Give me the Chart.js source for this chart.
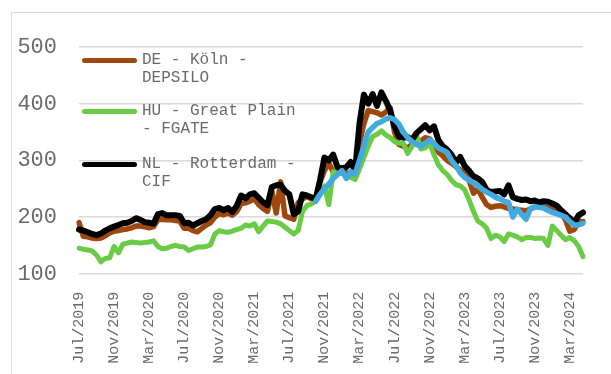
<!DOCTYPE html>
<html>
<head>
<meta charset="utf-8">
<script src="https://cdn.jsdelivr.net/npm/chart.js@4"></script>
<style>
  html, body { margin: 0; padding: 0; background: #fff; overflow: hidden; }
  #wrap { position: relative; width: 611px; height: 374px; }
  #frame { position: absolute; left: 11px; top: 12px; width: 640px; height: 400px;
           border: 1.5px solid #d9d9d9; box-sizing: border-box; }
  #chart { position: absolute; left: 0; top: 0; }
  .legend { position: absolute; left: 0; top: 0; font-family: "Liberation Mono", monospace;
            font-size: 16px; line-height: 18px; color: #6a6a6a; }
  .legend .swatch { position: absolute; left: 82px; width: 55px; height: 5px; border-radius: 3px; }
  .legend .txt { position: absolute; left: 142px; white-space: nowrap; }
</style>
</head>
<body>
<div id="wrap">
  <div id="frame"></div>
  <canvas id="chart" width="611" height="374"></canvas>
  <div class="legend" id="legend"></div>
</div>
<script>
// half-month steps, Jul 2019 .. Apr 2024
const months = ['Jan', 'Feb', 'Mar', 'Apr', 'May', 'Jun', 'Jul', 'Aug', 'Sep', 'Oct', 'Nov', 'Dec'];
const tickLabels = ['Jul/2019', 'Nov/2019', 'Mar/2020', 'Jul/2020', 'Nov/2020', 'Mar/2021', 'Jul/2021',
  'Nov/2021', 'Mar/2022', 'Jul/2022', 'Nov/2022', 'Mar/2023', 'Jul/2023', 'Nov/2023', 'Mar/2024'];

const categories = [];
for (let y = 2019, m = 6; categories.length < 116; ) {
  const lbl = months[m] + '/' + y;
  categories.push(lbl, lbl);
  m++;
  if (m === 12) { m = 0; y++; }
}

const deKoln = [
  190, 166, 165, 163, 162, 163, 167, 172, 175, 176, 178, 179, 181, 184, 184, 183,
  181, 183, 195, 196, 195, 195, 194, 193, 180, 180, 176, 174, 180, 186, 190, 200,
  206, 204, 207, 203, 210, 224, 225, 228, 232, 222, 215, 210, 246, 207, 262, 202,
  199, 196, 225, 232, 236, 232, 230, 262, 282, 295, 280, 278, 279, 278, 276, 277,
  330, 365, 388, 386, 384, 380, 385, 393, 350, 328, 325, 322, 328, 332, 334, 340,
  338, 328, 315, 308, 300, 295, 289, 283, 278, 265, 242, 250, 235, 222, 217, 219,
  220, 218, 215, 214, 213, 212, 211, 214, 218, 220, 218, 216, 214, 212, 208, 195,
  175, 178, 192, 192
];

const huGreatPlain = [
  145, 143, 142, 140, 133, 121, 127, 128, 148, 137, 152, 154, 156, 155, 154, 155,
  156, 158, 148, 144, 145, 148, 150, 148, 147, 141, 144, 147, 147, 148, 151, 170,
  176, 174, 173, 175, 178, 180, 186, 184, 188, 174, 184, 193, 192, 191, 188, 182,
  176, 170, 176, 210, 220, 223, 228, 240, 255, 222, 280, 276, 278, 272, 270, 266,
  285, 305, 325, 342, 346, 352, 345, 340, 333, 330, 330, 312, 325, 345, 320, 322,
  330, 310, 292, 282, 275, 265, 257, 255, 248, 230, 210, 193, 188, 180, 162, 168,
  165, 157, 170, 168, 165, 160, 164, 164, 162, 163, 162, 150, 184, 176, 168, 160,
  164, 158, 148, 130
];

const nlRotterdam = [
  178, 176, 173, 170, 168, 171, 176, 180, 183, 186, 189, 190, 193, 198, 195, 191,
  190, 188, 205, 207, 203, 203, 203, 202, 189, 190, 185, 189, 193, 196, 203, 214,
  216, 212, 216, 209, 220, 238, 233, 240, 242, 234, 226, 221, 253, 256, 257, 246,
  240, 205, 210, 240, 238, 235, 232, 265, 305, 300, 310, 288, 286, 288, 297, 282,
  365, 416, 400, 417, 396, 420, 405, 388, 360, 342, 340, 341, 336, 348, 355, 362,
  353, 360, 336, 325, 319, 310, 296, 306, 290, 282, 272, 268, 262, 248, 244, 245,
  246, 240, 256, 235, 232, 230, 231, 228, 229, 226, 228, 227, 224, 220, 212, 205,
  198, 190, 203, 208
];

// fourth series, quoted from Oct 2021 onwards
const blueSeries = [
  null, null, null, null, null, null, null, null, null, null, null, null, null, null, null, null,
  null, null, null, null, null, null, null, null, null, null, null, null, null, null, null, null,
  null, null, null, null, null, null, null, null, null, null, null, null, null, null, null, null,
  null, null, null, null, null, null, 228, 240, 250, 258, 268, 275, 282, 268, 280, 276,
  300, 325, 350, 358, 365, 368, 373, 375, 372, 364, 350, 340, 333, 328, 325, 330,
  336, 330, 322, 318, 314, 300, 290, 278, 270, 265, 260, 255, 249, 244, 240, 235,
  232, 228, 226, 200, 214, 205, 196, 215, 218, 217, 216, 212, 208, 206, 203, 200,
  192, 186, 186, 189
];

const seriesNames = [['DE - Köln -', 'DEPSILO'], ['HU - Great Plain', '- FGATE'], ['NL - Rotterdam -', 'CIF']];
const seriesColors = ['#9e480e', '#6acb44', '#000000', '#41abdf'];

function line(label, data, color, order, width) {
  return {
    label, data, borderColor: color, backgroundColor: color, order,
    borderWidth: width, pointRadius: 0, tension: 0, spanGaps: false,
    borderJoinStyle: 'round', borderCapStyle: 'round'
  };
}

new Chart(document.getElementById('chart').getContext('2d'), {
  type: 'line',
  data: {
    labels: categories,
    datasets: [
      line(seriesNames[0].join(' '), deKoln, seriesColors[0], 3, 5.5),
      line(seriesNames[1].join(' '), huGreatPlain, seriesColors[1], 2, 5),
      line(seriesNames[2].join(' '), nlRotterdam, seriesColors[2], 1, 6),
      line('', blueSeries, seriesColors[3], 0, 5.5),
    ]
  },
  options: {
    responsive: false,
    animation: false,
    layout: { padding: { top: 47, right: 28, left: 0, bottom: 0 } },
    plugins: { legend: { display: false }, tooltip: { enabled: false } },
    scales: {
      x: {
        grid: { display: false },
        border: { display: false },
        afterFit: s => { s.height = 100.3; },
        ticks: {
          autoSkip: false, maxRotation: 90, minRotation: 90, padding: 10,
          color: '#6a6a6a', font: { family: 'Liberation Mono', size: 15 },
          callback: (v, i) => (i % 8 === 0 ? tickLabels[i / 8] : '')
        }
      },
      y: {
        min: 100, max: 500,
        border: { display: false },
        grid: { color: '#d9d9d9', lineWidth: 1.5, drawTicks: false },
        afterFit: s => { s.width = 79; },
        ticks: {
          stepSize: 100, padding: 22,
          color: '#6a6a6a', font: { family: 'Liberation Mono', size: 22 }
        }
      }
    }
  }
});

// legend kept in HTML so the names can wrap over two lines
const legendTops = [60, 111, 164];
const legend = document.getElementById('legend');
seriesNames.forEach((name, i) => {
  const sw = document.createElement('div');
  sw.className = 'swatch';
  sw.style.top = (legendTops[i] - 2.5) + 'px';
  sw.style.background = seriesColors[i];
  const tx = document.createElement('div');
  tx.className = 'txt';
  tx.style.top = (legendTops[i] - 9) + 'px';
  tx.innerHTML = name.join('<br>');
  legend.appendChild(sw);
  legend.appendChild(tx);
});
</script>
</body>
</html>
